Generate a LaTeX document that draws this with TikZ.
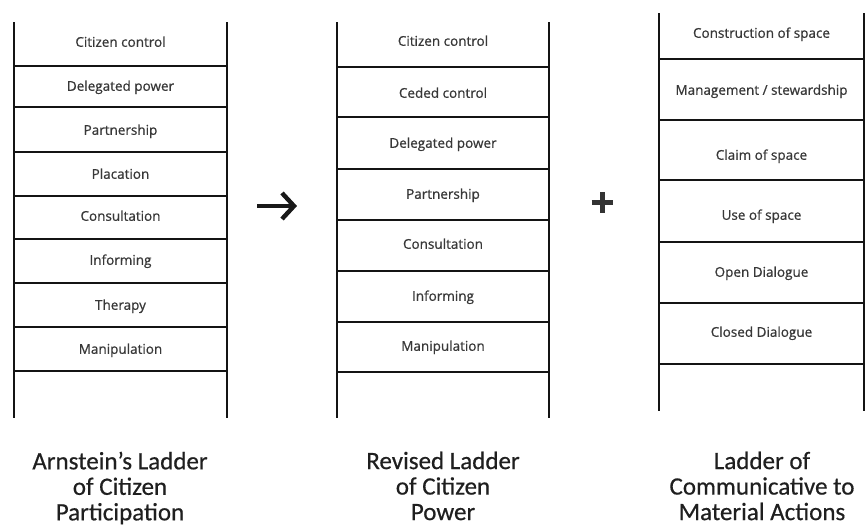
\documentclass[tikz,border=0pt]{standalone}
\usepackage{fontspec}
\setmainfont{Carlito}
\newfontfamily\rungfont[FakeBold=0.7]{Open Sans}
\newfontfamily\titlefont[FakeBold=0.5]{Carlito}
\begin{document}
\begin{tikzpicture}[x=1pt,y=-1pt,
  rail/.style={line width=2.6pt, draw=black!92},
  rung/.style={line width=2.6pt, draw=black!92},
  rungtext/.style={font=\rungfont\fontsize{13.5}{16}\selectfont, text=black!78,
    text height=9.6pt, text depth=0pt, inner sep=0pt, anchor=center},
  title/.style={font=\titlefont\fontsize{25}{25.5}\selectfont, text=black!88,
    align=center, inner sep=0pt, anchor=north},
  bigarrow/.style={line width=4.4pt, draw=black!90, miter limit=10},
  plussign/.style={line width=5pt, draw=black!80}]
\fill[white] (0,0) rectangle (866,525);
\useasboundingbox (0,0) rectangle (866,525);

% Arnstein's ladder
\draw[rail] (14,22) -- (14,418);
\draw[rail] (227,22) -- (227,418);
\foreach \y in {66,107,152,196,239,283,327,371}
  \draw[rung] (14,\y) -- (227,\y);
\foreach \y/\t [count=\i] in {42/Citizen control, 86/Delegated power,
    130/Partnership, 174/Placation, 216/Consultation, 260/Informing,
    305/Therapy, 349/Manipulation}
  \node[rungtext] (arn\i) at (120.5,\y) {\t};
\node[title] (arntitle) at (120,451.5)
  {Arnstein’s Ladder\\of Citizen\\Participation};

% Revised ladder
\draw[rail] (337,22) -- (337,418);
\draw[rail] (549,22) -- (549,418);
\foreach \y in {67,117,169,220,271,322,372}
  \draw[rung] (337,\y) -- (549,\y);
\foreach \y/\t [count=\i] in {41/Citizen control, 93/Ceded control,
    143/Delegated power, 194/Partnership, 244/Consultation,
    296/Informing, 346/Manipulation}
  \node[rungtext] (rev\i) at (443,\y) {\t};
\node[title] (revtitle) at (443,451.5)
  {Revised Ladder\\of Citizen\\Power};

% Ladder of communicative to material actions
\draw[rail] (659,13) -- (659,411);
\draw[rail] (864,13) -- (864,411);
\foreach \y in {59,120,180,242,303,364}
  \draw[rung] (659,\y) -- (864,\y);
\foreach \y/\t [count=\i] in {33/{Construction of space},
    90/{Management / stewardship}, 155/{Claim of space}, 215/{Use of space},
    272/{Open Dialogue}, 332/{Closed Dialogue}}
  \node[rungtext] (cma\i) at (761.5,\y) {\t};
\node[title] (cmatitle) at (762,451.5)
  {Ladder of\\Communicative to\\Material Actions};

% arrow between the first two ladders
\coordinate (arrtail) at (257,206);
\coordinate (arrhead) at (294,206);
\draw[bigarrow] (arrtail) -- (arrhead);
\draw[bigarrow] ([shift={(-12,-13)}]arrhead) -- (arrhead) -- ([shift={(-12,13)}]arrhead);

% plus sign before the third ladder
\coordinate (plusc) at (602,202);
\draw[plussign] ([xshift=-10.5pt]plusc) -- ([xshift=10.5pt]plusc);
\draw[plussign] ([yshift=-10.5pt]plusc) -- ([yshift=10.5pt]plusc);
\end{tikzpicture}
\end{document}
